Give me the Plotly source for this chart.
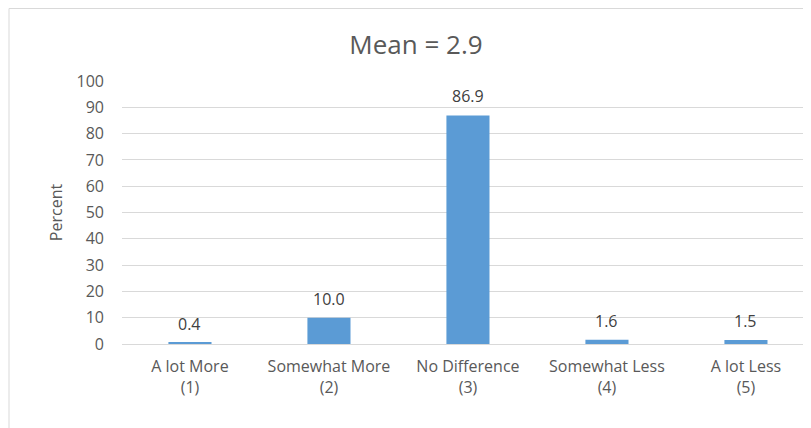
import plotly.graph_objects as go

categories = ["A lot More<br>(1)", "Somewhat More<br>(2)", "No Difference<br>(3)",
              "Somewhat Less<br>(4)", "A lot Less<br>(5)"]
percent = [0.4, 10.0, 86.9, 1.6, 1.5]
labels = ["0.4", "10.0", "86.9", "1.6", "1.5"]
y_ticks = list(range(0, 101, 10))

W, H = 803, 420
ml, mr, mt, mb = 114, 0, 73, 84
pw = W - ml - mr
ph = H - mt - mb

FONT = "'Open Sans', sans-serif"
TXT = "#595959"

xs = list(range(len(categories)))

fig = go.Figure(go.Bar(
    x=xs, y=percent, width=0.31,
    marker=dict(color="#5B9BD5", line=dict(width=0)),
))

for xi, v, lab in zip(xs, percent, labels):
    fig.add_annotation(x=xi, y=v, text=lab, showarrow=False, yanchor="middle",
                       yshift=19, font=dict(family=FONT, size=16, color="#404040"))

fig.update_layout(
    width=W, height=H,
    margin=dict(l=ml, r=mr, t=mt, b=mb, pad=0),
    paper_bgcolor="white", plot_bgcolor="white",
    showlegend=False,
    title=dict(text="Mean = 2.9", x=(408 - ml) / pw, xref="paper", xanchor="center",
               y=1 - 37 / H, yanchor="middle",
               font=dict(family=FONT, size=26, color=TXT)),
    font=dict(family=FONT, color=TXT, size=16),
)
fig.update_xaxes(
    tickmode="array", tickvals=xs, ticktext=categories,
    range=[-0.489, 4.468], showgrid=False, zeroline=False,
    showline=False, ticks="", ticklabelstandoff=11,
    tickfont=dict(family=FONT, size=16, color=TXT),
)
fig.update_yaxes(
    range=[0, 100], tickvals=y_ticks, showgrid=True, gridcolor="#D9D9D9", gridwidth=1,
    zeroline=True, zerolinecolor="#D9D9D9", zerolinewidth=1, showline=False,
    ticks="", ticklabelstandoff=17,
    tickfont=dict(family=FONT, size=16, color=TXT),
    title=dict(text="Percent", font=dict(family=FONT, size=16, color=TXT), standoff=9),
)
# outer chart border
fig.add_shape(type="rect", xref="paper", yref="paper",
              x0=(1 - ml) / pw, x1=(W + 5 - ml) / pw,
              y0=-(H + 5 - mt - ph) / ph, y1=1 + (mt - 0.5) / ph,
              line=dict(color="#D9D9D9", width=1), fillcolor="rgba(0,0,0,0)", layer="below")

fig.write_html("out.html")
